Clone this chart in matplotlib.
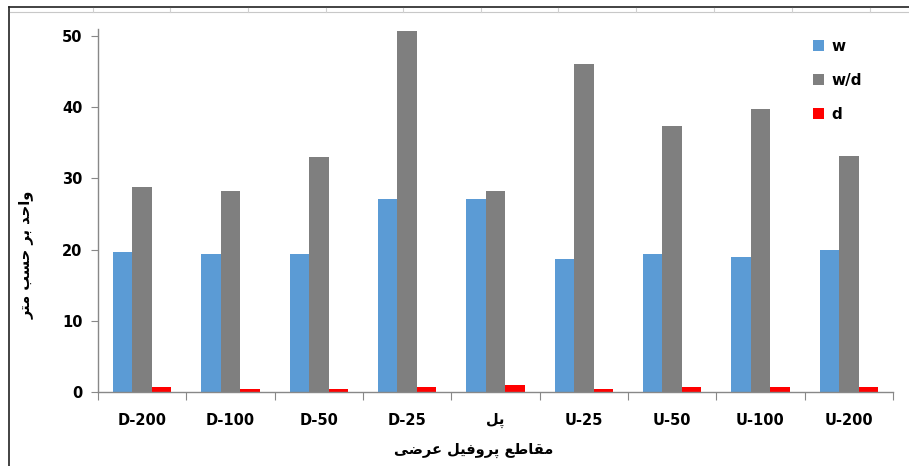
import numpy as np
import matplotlib
matplotlib.use('Agg')
import matplotlib.pyplot as plt
from matplotlib.patches import Patch
from matplotlib.lines import Line2D

plt.rcParams['font.family'] = ['DejaVu Sans']

# section names along the river (pl = the bridge)
categories = ['D-200', 'D-100', 'D-50', 'D-25', 'پل', 'U-25', 'U-50', 'U-100', 'U-200']
w = [19.6, 19.4, 19.4, 27.1, 27.1, 18.7, 19.4, 18.9, 19.9]
wd = [28.8, 28.2, 33.0, 50.7, 28.2, 46.1, 37.4, 39.8, 33.1]
d = [0.6, 0.45, 0.45, 0.6, 0.9, 0.45, 0.6, 0.6, 0.6]
series_names = ['w', 'w/d', 'd']
colors = ['#5B9BD5', '#7F7F7F', '#FF0000']

# matplotlib does no arabic shaping, so the words are written in
# presentation forms (logical order) and flipped to visual order
def visual(s):
    return s[::-1]

xlabel = visual('\uFEE3\uFED8\uFE8E\uFEC3\uFECA \uFB58\uFEAE\uFEED\uFED3\uFBFF\uFEDE \uFECB\uFEAE\uFEBF\uFBFD')
ylabel = visual('\uFEED\uFE8D\uFEA3\uFEAA \uFE91\uFEAE \uFEA3\uFEB4\uFE90 \uFEE3\uFE98\uFEAE')
cat_labels = [visual('\uFB58\uFEDE') if c == 'پل' else c for c in categories]

fig = plt.figure(figsize=(9.09, 4.66), dpi=100)
ax = fig.add_axes([0.1078, 0.1594, 0.8746, 0.7777])

x = np.arange(len(categories))
bw = 0.221
for i, (vals, c) in enumerate(zip([w, wd, d], colors)):
    ax.bar(x + (i - 1) * bw, vals, bw, color=c, linewidth=0, zorder=2)

ax.set_xlim(-0.5, len(categories) - 0.5)
ax.set_ylim(0, 50.97)
ax.set_yticks(np.arange(0, 51, 10))
ax.set_xticks(np.arange(-0.5, len(categories), 1.0))
ax.set_xticklabels([])
ax.set_xticks(x, minor=True)
ax.set_xticklabels(cat_labels, minor=True)

for s in ['top', 'right']:
    ax.spines[s].set_visible(False)
for s in ['left', 'bottom']:
    ax.spines[s].set_color('#888888')
    ax.spines[s].set_linewidth(1.0)

ax.tick_params(axis='y', which='major', direction='out', length=5, color='#888888',
               labelsize=10.5, pad=6)
ax.tick_params(axis='x', which='major', direction='out', length=6, color='#888888')
ax.tick_params(axis='x', which='minor', length=0, labelsize=10.5, pad=15)
for lab in ax.get_yticklabels() + ax.get_xticklabels(minor=True):
    lab.set_fontweight('bold')

fig.text(474 / 909, 1 - 450 / 466, xlabel, ha='center', va='center',
         fontsize=10.5, fontweight='bold')
fig.text(26 / 909, 1 - 255 / 466, ylabel, ha='center', va='center',
         rotation=90, fontsize=10.5, fontweight='bold')

handles = [Patch(facecolor=c, edgecolor='none') for c in colors]
leg = fig.legend(handles, series_names, loc='upper left',
                 bbox_to_anchor=(799 / 909, 1 - 25 / 466), frameon=False,
                 handlelength=0.75, handleheight=0.75, handletextpad=0.5,
                 labelspacing=1.25, prop={'weight': 'bold', 'size': 11})

# sheet frame around the chart
fig.add_artist(Line2D([9 / 909, 1], [1 - 7 / 466] * 2, color='#222222', lw=1.2))
fig.add_artist(Line2D([9 / 909] * 2, [0, 1 - 7 / 466], color='#222222', lw=1.2))
fig.add_artist(Line2D([10 / 909, 1], [1 - 12 / 466] * 2, color='#c8c8c8', lw=0.8))
for gx in [93, 170, 248, 326, 403, 481, 558, 636, 714, 792, 870]:
    fig.add_artist(Line2D([gx / 909] * 2, [1 - 8 / 466, 1 - 12 / 466], color='#d0d0d0', lw=0.8))

fig.savefig('out.png', dpi=100)
